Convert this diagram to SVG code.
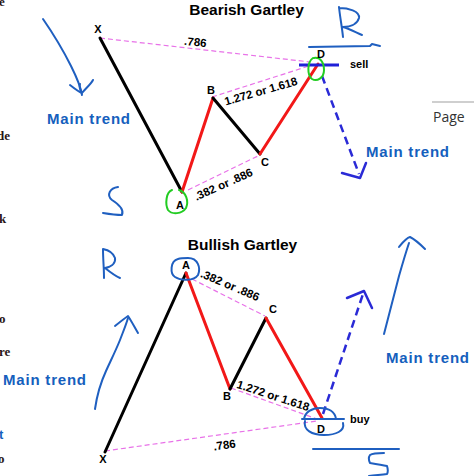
<svg xmlns="http://www.w3.org/2000/svg" width="474" height="476" viewBox="0 0 474 476">
<style>
.bg{fill:#fff}
.leg{fill:none;stroke-width:3;stroke-linecap:round}
.blk{stroke:#000}
.red{stroke:#f21818}
.fib{fill:none;stroke:#e872e8;stroke-width:1.2;stroke-dasharray:5 3}
.dash{fill:none;stroke:#2a2ad6;stroke-width:2.5;stroke-dasharray:8 5}
.ah{fill:none;stroke:#2a2ad6;stroke-width:2.5;stroke-linecap:round;stroke-linejoin:round}
.hand{fill:none;stroke:#1f5fc0;stroke-width:2;stroke-linecap:round;stroke-linejoin:round}
.grn{fill:none;stroke:#22cc22;stroke-width:2;stroke-linecap:round}
.t{font-family:"Liberation Sans",Arial,sans-serif;font-weight:bold;fill:#000}
.lab{font-size:11px;text-anchor:middle}
.num{font-size:11.5px;text-anchor:middle}
.ttl{font-size:15.5px;text-anchor:middle}
.mt{font-family:"Liberation Sans",Arial,sans-serif;font-weight:bold;font-size:15px;fill:#1560bd;letter-spacing:0.8px}
.frag{font-family:"Liberation Serif","Times New Roman",serif;font-weight:bold;font-size:13px;fill:#2a1616}
</style>
<rect class="bg" x="0" y="0" width="474" height="476"/>

<g id="page-fragments">
<text class="frag" x="-1" y="6">e</text>
<text class="frag" x="-3" y="140">de</text>
<text class="frag" x="-1" y="223">k</text>
<text class="frag" x="-1" y="323">o</text>
<text class="frag" x="-1" y="356">re</text>
<text class="frag" x="-1" y="439" style="fill:#1560bd;font-family:'Liberation Sans',sans-serif">t</text>
<text class="frag" x="-2" y="463">o</text>
<line x1="432" y1="102" x2="474" y2="102" stroke="#cfcfcf" stroke-width="2"/>
<text x="433" y="122" style="font-family:'Open Sans','Liberation Sans',sans-serif;font-size:14px;fill:#333">Page</text>
</g>

<g id="connectors">
<!-- bearish -->
<line class="fib" x1="100" y1="38" x2="310" y2="62"/>
<line class="fib" x1="212" y1="97" x2="309" y2="66"/>
<line class="fib" x1="188" y1="190" x2="260" y2="155"/>
<line class="leg blk" x1="100" y1="38" x2="182" y2="192"/>
<line class="leg red" x1="182" y1="192" x2="213" y2="98"/>
<line class="leg blk" x1="213" y1="98" x2="260" y2="154"/>
<line class="leg red" x1="260" y1="154" x2="318" y2="64"/>
<line class="dash" x1="322" y1="76" x2="359" y2="174"/>
<polyline class="ah" points="342,173 360,178 366,163"/>
<!-- bullish -->
<line class="fib" x1="192" y1="279" x2="265" y2="316"/>
<line class="fib" x1="231" y1="388" x2="317" y2="419"/>
<line class="fib" x1="105" y1="451" x2="317" y2="421"/>
<line class="leg blk" x1="105" y1="452" x2="186" y2="273"/>
<line class="leg red" x1="186" y1="273" x2="230" y2="389"/>
<line class="leg blk" x1="230" y1="389" x2="266" y2="318"/>
<line class="leg red" x1="266" y1="318" x2="322" y2="418"/>
<line class="dash" x1="323" y1="414" x2="363" y2="294"/>
<polyline class="ah" points="347,298 364,291 372,308"/>
</g>

<g id="bearish-title"><text class="t ttl" x="246.5" y="15">Bearish Gartley</text></g>
<g id="bearish-X"><text class="t lab" x="98" y="33">X</text></g>
<g id="bearish-A">
<path class="grn" d="M172,190 C166,192 165,204 168,210 C172,215 182,214 186,208 C189,201 186,192 179,190"/>
<text class="t lab" x="180" y="209">A</text>
</g>
<g id="bearish-B"><text class="t lab" x="211" y="94">B</text></g>
<g id="bearish-C"><text class="t lab" x="265" y="166">C</text></g>
<g id="bearish-D">
<line x1="299" y1="65" x2="339" y2="65" stroke="#2020d8" stroke-width="3"/>
<path class="grn" d="M313,58 C307,62 307,75 312,79 C317,82 324,78 324,70 C324,62 320,57 314,58"/>
<text class="t lab" x="321" y="58">D</text>
<text class="t" x="350" y="68" style="font-size:11px">sell</text>
</g>
<g id="bearish-ratios">
<text class="t num" x="195" y="46" transform="rotate(6 195 46)">.786</text>
<text class="t num" x="262" y="95" transform="rotate(-16 262 95)">1.272 or 1.618</text>
<text class="t num" x="225" y="188" transform="rotate(-24 225 188)">.382 or .886</text>
</g>
<g id="bearish-notes">
<path class="hand" d="M43,19 C52,32 63,50 71,66 C77,78 81,88 82,95"/>
<path class="hand" d="M70,85 C75,89 79,92 82,93 C86,88 91,84 93,80 M82,93 C80,90 79,87 80,84"/>
<text class="mt" x="47" y="124">Main trend</text>
<path class="hand" d="M118,187 C110,188 106,195 112,200 C120,205 124,210 122,215 C116,215 109,214 103,213"/>
<path class="hand" d="M339,7 C340,17 342,27 343,37 M339,8 C348,8 360,11 359,18 C357,25 349,27 343,27 C350,29 357,33 362,35"/>
<path class="hand" d="M309,47 L370,46 L372,44 L380,46"/>
<text class="mt" x="366" y="157">Main trend</text>
</g>

<g id="bullish-title"><text class="t ttl" x="242.5" y="250">Bullish Gartley</text></g>
<g id="bullish-A">
<path class="hand" d="M178,259 C170,261 170,274 175,277 C181,281 194,281 198,275 C201,268 198,258 188,258 C184,258 181,258 178,259"/>
<text class="t lab" x="186" y="269">A</text>
</g>
<g id="bullish-B"><text class="t lab" x="227" y="400">B</text></g>
<g id="bullish-C"><text class="t lab" x="273" y="313">C</text></g>
<g id="bullish-X"><text class="t lab" x="103" y="463">X</text></g>
<g id="bullish-D">
<path class="hand" d="M304,419 C305,412 312,408 320,408 C329,408 335,412 336,419 M302,419 L344,419 M305,421 C303,430 312,435 324,435 C336,435 345,431 343,423"/>
<text class="t lab" x="321" y="433">D</text>
<text class="t" x="350" y="423" style="font-size:11px">buy</text>
</g>
<g id="bullish-ratios">
<text class="t num" x="228.5" y="289" transform="rotate(23 228.5 289)">.382 or .886</text>
<text class="t num" x="272" y="399.5" transform="rotate(18 272 399.5)">1.272 or 1.618</text>
<text class="t num" x="225" y="449" transform="rotate(-8 225 449)">.786</text>
</g>
<g id="bullish-notes">
<path class="hand" d="M103,249 C103,259 104,268 104,278 M103,249 C108,250 113,252 115,258 C116,264 110,267 105,268 C110,272 115,276 120,278"/>
<path class="hand" d="M95,409 C97,395 100,384 106,371 C111,360 116,350 120,340 C123,332 126,325 128,318"/>
<path class="hand" d="M115,326 C120,322 125,318 128,316 C132,322 135,328 138,333"/>
<text class="mt" x="3" y="385">Main trend</text>
<path class="hand" d="M384,334 C389,315 394,296 399,276 C403,262 406,252 409,243"/>
<path class="hand" d="M399,247 C403,242 406,238 410,237 C416,240 421,245 425,249"/>
<text class="mt" x="386" y="363">Main trend</text>
<path class="hand" d="M313,449 L399,449"/>
<path class="hand" d="M384,453 C378,453 373,453 370,455 C368,458 369,461 370,463 C376,464 382,465 387,466 C388,469 388,472 387,474 C381,475 375,475 369,476"/>
</g>
</svg>
